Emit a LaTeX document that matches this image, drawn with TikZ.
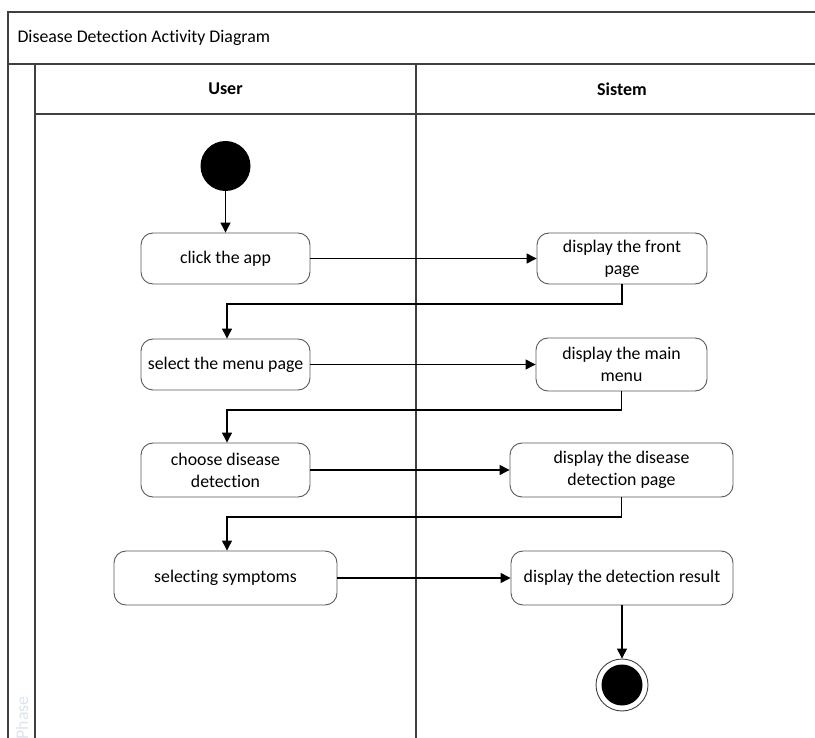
\documentclass[tikz,border=0pt]{standalone}
\usepackage{fontspec}
\setmainfont{Carlito}[Ligatures=NoCommon]
\usetikzlibrary{arrows.meta}
\definecolor{framegray}{HTML}{404040}
\definecolor{boxgray}{HTML}{5A5A5A}
\definecolor{phasegray}{HTML}{DCE4EE}
\tikzset{
  lane/.style={draw=framegray, line width=1.4pt},
  action/.style={draw=boxgray, line width=0.9pt, rounded corners=12pt, fill=white,
    align=center, inner sep=0pt, font=\fontsize{17.8}{22}\selectfont},
  flow/.style={draw=black, line width=1.3pt, -{Triangle[length=10pt,width=10pt]}},
  lbl/.style={font=\fontsize{17.8}{22}\selectfont},
  hdr/.style={font=\fontsize{18}{22}\selectfont\bfseries}
}
\begin{document}
\begin{tikzpicture}[x=1pt,y=-1pt]
\useasboundingbox (0,0) rectangle (815,738);
\fill[white] (0,0) rectangle (815,738);

% swimlane frame
\draw[lane] (815,12) -- (8,12) -- (8,738);
\draw[lane] (8,64) -- (815,64);
\draw[lane] (35,64) -- (35,738);
\draw[lane] (35,114) -- (815,114);
\draw[lane] (416,64) -- (416,738);

\node[lbl, anchor=west] (title) at (14,38) {Disease Detection Activity Diagram};
\node[hdr] (user) at (225.5,89) {User};
\node[hdr] (sistem) at (622,89) {Sistem};
\node[lbl, text=phasegray, rotate=90] (phase) at (22,718) {Phase};

% initial and final states
\node[circle, fill=black, minimum size=50pt, inner sep=0pt] (start) at (225.5,166) {};
\node[circle, draw=framegray, line width=0.9pt, fill=white, minimum size=52pt, inner sep=0pt] (final) at (622,685) {};
\node[circle, fill=black, minimum size=41pt, inner sep=0pt] (finaldot) at (622,685) {};

% actions
\node[action, minimum width=169pt, minimum height=51pt] (click) at (225.5,258.5) {click the app};
\node[action, minimum width=170pt, minimum height=51pt] (front) at (622,258.5) {display the front\\page};
\node[action, minimum width=169pt, minimum height=51pt] (select) at (225.5,364.5) {select the menu page};
\node[action, minimum width=171pt, minimum height=53pt] (mainmenu) at (621.5,364.5) {display the main\\menu};
\node[action, minimum width=169pt, minimum height=54pt] (choose) at (225.5,470) {choose disease\\detection};
\node[action, minimum width=223pt, minimum height=54pt] (detpage) at (621.5,470) {display the disease\\detection page};
\node[action, minimum width=223pt, minimum height=54pt] (symptoms) at (225.5,578) {selecting symptoms};
\node[action, minimum width=222pt, minimum height=54pt] (result) at (622,578) {display the detection result};

% control flow
\draw[flow] (start) -- (click);
\draw[flow] (click) -- (front);
\draw[flow] (front.south) |- (227,304) -- (select.north -| 227,0);
\draw[flow] (select) -- (select -| mainmenu.west);
\draw[flow] (mainmenu.south) |- (227,410) -- (choose.north -| 227,0);
\draw[flow] (choose) -- (detpage);
\draw[flow] (detpage.south) |- (227,517) -- (symptoms.north -| 227,0);
\draw[flow] (symptoms) -- (result);
\draw[flow] (result) -- (final);
\end{tikzpicture}
\end{document}
